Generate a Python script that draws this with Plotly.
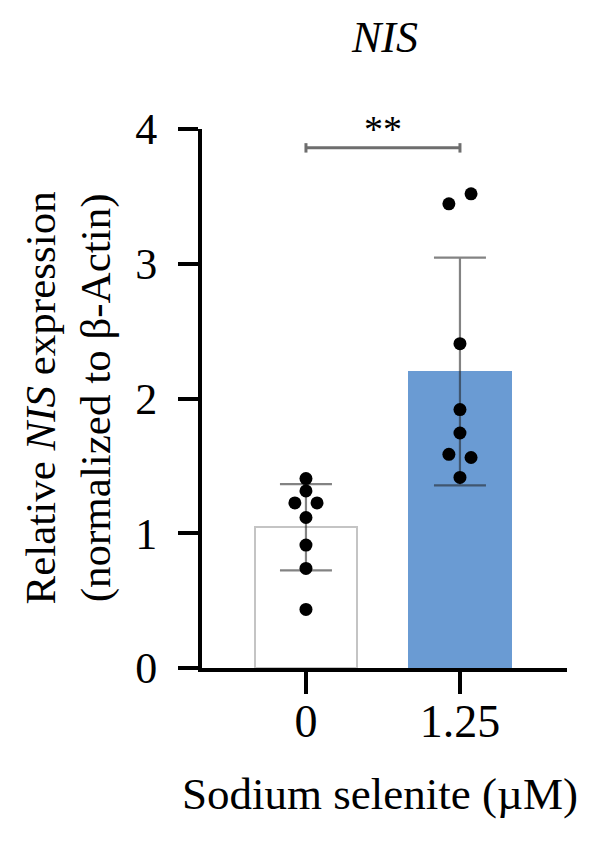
import plotly.graph_objects as go

# ---- data ----
categories = ["0", "1.25"]
bar_means = [1.045, 2.20]
bar_sd = [0.32, 0.845]
points_ctrl = [1.406, 1.314, 1.225, 1.225, 1.117, 0.912, 0.739, 0.435]
points_sel = [3.519, 3.445, 2.407, 1.918, 1.744, 1.586, 1.562, 1.414]
sig_label = "**"
sig_height = 3.86
y_ticks = [0, 1, 2, 3, 4]

# ---- style ----
FONT = "Liberation Serif, Times New Roman, serif"
jit = 0.072
jitter_ctrl = [0, 0, -jit, jit, 0, 0, 0, 0]
jitter_sel = [jit, -jit, 0, 0, 0, -jit, jit, 0]
bar_fill = ["#ffffff", "#6a9bd3"]
bar_line = ["#c4c4c4", "#6a9bd3"]

xpos = list(range(len(categories)))

fig = go.Figure()
fig.add_trace(go.Bar(
    x=xpos, y=bar_means, width=0.66,
    marker=dict(color=bar_fill, line=dict(color=bar_line, width=2)),
    error_y=dict(type="data", array=bar_sd, visible=True,
                 color="rgba(30,30,30,0.55)", thickness=2.2, width=26),
    showlegend=False,
))
fig.add_trace(go.Scatter(
    x=[xpos[0] + j for j in jitter_ctrl], y=points_ctrl, mode="markers",
    marker=dict(color="black", size=13), showlegend=False, cliponaxis=False,
))
fig.add_trace(go.Scatter(
    x=[xpos[1] + j for j in jitter_sel], y=points_sel, mode="markers",
    marker=dict(color="black", size=13), showlegend=False, cliponaxis=False,
))
# significance bracket
cap = 0.035
fig.add_trace(go.Scatter(
    x=[xpos[0], xpos[0], None, xpos[0], xpos[1], None, xpos[1], xpos[1]],
    y=[sig_height - cap, sig_height + cap, None, sig_height, sig_height, None,
       sig_height - cap, sig_height + cap],
    mode="lines", line=dict(color="#6e6e6e", width=3),
    showlegend=False, cliponaxis=False, hoverinfo="skip",
))
fig.add_annotation(x=(xpos[0] + xpos[1]) / 2, y=sig_height, xref="x", yref="y",
                   text=sig_label, showarrow=False, yanchor="bottom", yshift=-4,
                   font=dict(family=FONT, size=38, color="black"))

fig.update_layout(
    width=600, height=841,
    margin=dict(l=202, r=33, t=129, b=173),
    plot_bgcolor="white", paper_bgcolor="white",
    font=dict(family=FONT, color="black", size=40),
    bargap=0,
)
fig.update_xaxes(
    range=[-0.675, 1.695], tickvals=xpos, ticktext=categories,
    showline=True, linecolor="black", linewidth=4,
    ticks="outside", ticklen=22, tickwidth=4, tickcolor="black",
    showgrid=False, zeroline=False, tickfont=dict(size=46),
    ticklabelstandoff=-12,
)
fig.update_yaxes(
    range=[0, 4], tickvals=y_ticks,
    showline=True, linecolor="black", linewidth=4,
    ticks="outside", ticklen=20, tickwidth=4, tickcolor="black",
    showgrid=False, zeroline=False, tickfont=dict(size=44),
    ticklabelstandoff=12,
)
# axis titles / chart title
fig.add_annotation(text="Relative <i>NIS</i> expression<br>(normalized to β-Actin)",
                   xref="paper", yref="paper", x=(68 - 202) / 365, y=0.5,
                   textangle=-90, showarrow=False, xanchor="center", yanchor="middle",
                   font=dict(family=FONT, size=43, color="black"))
fig.add_annotation(text="Sodium selenite (µM)", xref="paper", yref="paper",
                   x=(380 - 202) / 365, y=-(795 - 668.5) / 539.5,
                   showarrow=False, xanchor="center", yanchor="middle",
                   font=dict(family=FONT, size=45, color="black"))
fig.add_annotation(text="<i>NIS</i>", xref="paper", yref="paper",
                   x=(384 - 202) / 365, y=1 + (129 - 37) / 539.5,
                   showarrow=False, xanchor="center", yanchor="middle",
                   font=dict(family=FONT, size=44, color="black"))

fig.write_html("out.html")
